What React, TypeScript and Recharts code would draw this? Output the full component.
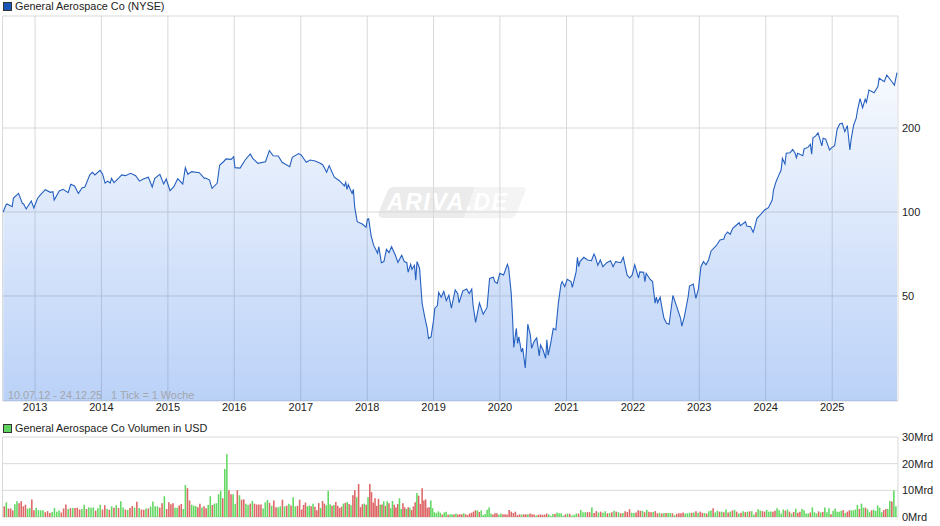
import { Area, AreaChart, Bar, BarChart, CartesianGrid, Cell, XAxis, YAxis } from "recharts";

// one entry per turning point of the weekly close, week 0 = 10.07.12
const priceWeeks = [
  0, 2, 3, 7, 8, 12, 15, 16, 18, 22, 24, 27, 29, 33, 37, 39, 40, 44, 47, 51,
  53, 56, 59, 62, 64, 68, 70, 72, 76, 78, 80, 82, 84, 85, 87, 91, 93, 96, 100, 104,
  107, 110, 114, 117, 119, 123, 126, 128, 131, 134, 137, 141, 143, 145, 148, 154, 158, 159, 162, 164,
  168, 170, 173, 175, 179, 181, 182, 186, 190, 194, 196, 200, 206, 209, 212, 216, 219, 225, 227, 232,
  234, 238, 241, 245, 249, 251, 254, 256, 260, 264, 268, 269, 270, 271, 274, 275, 276, 278, 282, 285,
  286, 287, 289, 291, 294, 295, 297, 299, 301, 303, 305, 308, 310, 313, 315, 317, 318, 320, 321, 323,
  324, 325, 327, 329, 331, 333, 334, 336, 338, 339, 341, 342, 344, 346, 348, 350, 352, 355, 357, 358,
  361, 364, 366, 368, 369, 371, 374, 377, 380, 382, 385, 386, 388, 390, 393, 396, 397, 399, 400, 401,
  403, 404, 405, 407, 408, 410, 411, 412, 414, 415, 417, 419, 421, 422, 424, 426, 427, 428, 430, 432,
  434, 436, 438, 439, 441, 443, 446, 447, 450, 451, 452, 453, 456, 459, 462, 464, 465, 467, 469, 471,
  474, 477, 479, 481, 485, 487, 490, 492, 494, 496, 499, 500, 503, 504, 505, 508, 510, 512, 513, 514,
  516, 517, 519, 521, 523, 525, 526, 529, 532, 533, 535, 538, 539, 542, 544, 546, 548, 550, 552, 554,
  556, 560, 563, 566, 567, 569, 571, 573, 576, 578, 579, 583, 584, 587, 589, 590, 592, 595, 598, 601,
  604, 605, 607, 609, 611, 612, 614, 615, 618, 620, 622, 623, 624, 628, 629, 632, 634, 635, 636, 638,
  640, 643, 644, 646, 649, 651, 653, 655, 657, 659, 661, 663, 665, 666, 668, 670, 671, 673, 675, 677,
  678, 680, 684, 687, 688, 692, 694, 698, 700, 702,
];

const priceCloses = [
  100, 105.9, 106.8, 104.5, 112.2, 116.6, 107.4, 106.8, 102.5, 109.5, 103.4, 112, 115, 120.2, 117.6, 118.2, 110.4, 118.9, 120.6, 117.3,
  125.7, 124, 116.6, 122.2, 122.6, 135.8, 138.8, 135.8, 141, 136.9, 127, 129, 127, 132, 127.4, 132.8, 135.8, 135, 137.6, 135,
  129, 131.3, 133.2, 122.9, 132, 136.5, 126, 131.3, 119.2, 123.2, 131.6, 126, 144.2, 136.5, 139.5, 138.3, 132, 132.4, 130.2, 121.6,
  126.7, 147.4, 151.4, 155, 154.4, 157.9, 144.2, 143.6, 153.6, 161.4, 155.7, 149.4, 151.4, 165.9, 159, 158.7, 150.7, 145.4, 157, 162,
  160.2, 150.7, 153.6, 152.3, 149.4, 147.4, 138.8, 146.6, 133.2, 129.5, 124, 127.7, 120.6, 125.3, 116.6, 120.6, 104.5, 92.3, 90.6, 88.2,
  94.2, 94.6, 82, 75.9, 71.1, 75.1, 65.8, 66.4, 73.5, 71.5, 75.1, 70, 66, 70, 66.4, 65.8, 60.8, 65, 62.3, 64.4,
  57, 66.4, 62.9, 47.1, 42.2, 38.3, 35.2, 35.7, 41, 45.2, 46.2, 51.5, 49.5, 51.9, 48.1, 50.3, 45.2, 52.6, 51, 47.3,
  52.2, 53, 51, 52.9, 46.4, 40.2, 47.2, 43, 45.5, 57.8, 58.4, 56.3, 55.5, 60.3, 59.5, 64.9, 62.9, 51.1, 42.2, 32.7,
  38.3, 33.8, 35.7, 31.5, 32.5, 27.6, 32.5, 39.6, 36.3, 32.5, 34.4, 35.4, 30.5, 33.4, 32, 29.9, 34.8, 30.7, 33.8, 38.3,
  37.8, 47.1, 54.8, 56.3, 54, 57.4, 56.3, 53.7, 61.1, 68.8, 63.7, 66.4, 68.8, 67.3, 66.9, 70.7, 69.2, 64.4, 67.3, 63.7,
  65.8, 66.9, 63.7, 66.4, 65.8, 68.8, 59.5, 58, 59.5, 64.7, 58, 61, 60.8, 56.3, 60.3, 57.4, 56.3, 47.1, 49.5, 47.3,
  49.5, 46.4, 41.6, 39.9, 39.6, 46.4, 50.2, 45.8, 41.6, 39, 42.2, 49.8, 54.3, 55.2, 49, 52.9, 63.7, 66.4, 64.7, 67.3,
  72.5, 75.7, 79.4, 80, 82.7, 84.8, 83.2, 87.4, 89.8, 91.5, 89.3, 92.3, 89, 88.6, 84.6, 87.4, 94.9, 98.1, 101.7, 103.6,
  110.4, 119.9, 128.4, 135, 141.4, 155.7, 148.6, 162.4, 163.1, 167.7, 162.4, 156.5, 162.4, 159, 168.2, 170.4, 174.7, 161, 184.6, 187,
  192.1, 172.7, 183.8, 182.4, 166.8, 170.4, 172.7, 197.9, 206.8, 208, 194, 204, 166.8, 182.4, 205, 217, 232, 254.7, 236.5, 253.5,
  247, 273.7, 267.6, 281.3, 301.4, 293, 309.7, 293, 285, 315.6,
];

// weekly volume in Mrd USD per year, negative = down week (red bar)
const volume2012 = [-4, 5.5, -3.2, -3.2, -2.5, 4.8, 5.9, -5.2, -5.9, -4, -4.6, 3.1, 3.4, -6.6, -2.5];
const volume2013 = [3.5, 2.6, 2.5, 2.5, -1.8, -2.2, -1.5, 1.9, 3.4, 2, 2.4, -1.7, -3.2, -4.7, 3, -3.3, 3.4, -3.4, -3.5, -2.8, 3, 4.6, -3, 3.6, 3.5, 3.6, -2.4, 3.3, 4.6];
const volume2014 = [-2.8, -4.4, 3, -2.7, 4, -3.5, 4.4, -3.4, 5.9, 3.6, -2.8, 2.6, -3.4, -4.1, 3.5, -5.7, 3.4, -2.8, -2.7, 3.2, -3.2, 3.9, 5.8, 4, 4, -3.5, -5.2, 7.8, -3];
const volume2015 = [-5.5, -4.8, -5.2, 3.5, 3.5, -4.3, -4.9, 3, 12, -10.8, -6.2, 4.6, 4.2, 4.1, -3.7, -5, 3.6, -4, -3.3, 4.5, 7.8, -4.5, 5, 5.2, 8.5, 9.8, -7, 18, 23.5, -10, -8.5, 8.5];
const volume2016 = [5, -10, 8.2, -6.5, -6.6, 5, 4.5, -5, 6, -5, -4.7, -4.7, -4.7, 3.2, 5.5, 6.4, -5.3, 4.2, -6.2, -3.7, 3.7, 4, -6.5, 4, -4.3, 5, -4.3, 7.4, 4, -4.2, -6.5];
const volume2017 = [-2.8, -4.5, -5.4, 4, 4.3, -4, 5, -3.8, -2.5, -5.2, 3.4, -6, -5, 4.4, 9.8, 4.8, -4.2, 4.5, -5.6, -4.2, -3.4, -3.9, 5, -5.3, 5.6, -4.9, 4.4, -8.2, -10, 7.4, -12.4, -3.7, -4.8, 5, -4.6];
const volume2018 = [7.4, -12.4, -9.3, -5.4, -7, -4.2, -6.8, 4.6, -4.7, 5.9, -4.2, 5.9, -5.2, 3.3, 6, -4.6, -3.6, -4.9, 7, 3, -5.2, -3.6, 3, -3.7, 3.5, -2.6, -4, -5.5, 9, -8, -4.9, -10.8, -6.2, -6.6, -3.5, -3.7, 6.2, 3.3];
const volume2019 = [1.8, 1.4, 2.1, 1.6, -0.9, 1.7, 2, -0.8, 1, 1, -0.9, 1.3, -0.9, -1, -1, 1.4, -1, -0.7, -1.3, -1.6, -2, -2.5, 2.5, -1.9, 2.5, 0.7, 1.1, 2.7, 3.6, 1.3, -0.9, -1.4, -1.4, 0.8];
const volume2020 = [1.3, -1, -1, -0.9, -2.6, -2, -1.5, -2, -0.7, -1, 1, -1, -1, 1, -1.3, -1, -0.9, 0.6, -0.8, -1, -0.8, -0.9, -1.3, 1, 0.5, 1.1, -1.1, 1.7, 1.4, 1.4, 0.5, -1];
const volume2021 = [1.3, -1.2, 0.6, 0.8, 1.3, -1.3, 2.6, 1.8, 1.8, -1.8, -1.8, 3.6, -1.5, -2.2, 1.7, -2, 1.6, 2.2, -1.4, 1.5, -1.8, 2.3, -2, 1.8, -1.4, 1.5, -2.2, -1.9, -2.9, 1.6];
const volume2022 = [1.5, -1.7, -2.5, -2.3, 2.3, -1.8, 2.7, -2, -1.8, 1.9, -2.2, -1.4, 1.6, -1.3, 1.5, -1.5, 1.5, 1.5, -1.4, 0.7, -1.2, -1.4, -1.4, -1.7, 1.3, 1.4, 1.6, -1.6, 1.7, -2.2, 1.6];
const volume2023 = [-2, -1.6, 1.5, -1.3, 2.2, 2.4, -3.3, 1.7, 2.3, -2, 2, -1.8, 2.8, -1.7, 2, -2.4, 2.7, -2, 1.3, -1.6, 2.2, -1.8, 2, -2.1, 2.2, 0.9, -1.8, 2.9, 2.4, -2.2, -2];
const volume2024 = [2.7, 2, 2.1, -2, -2.3, 3.3, 2.5, 1.3, 2.8, -2.4, 2.8, -2, 1.3, -1.9, 3.1, -1.6, -2, 3, 2.5, 1.3, 1.3, -1.7, 3.6, 1.8, 1.3, -2.1, 1.7, -1.9, 3.6, 1.8, 3.3, -1];
const volume2025 = [2.3, 3.2, 2, 2, 2.3, -2.6, 1.5, -2, -2.5, 2.5, 2.5, 2.8, 4.5, -3, 5, 3.5, -3.5, 2.9, 1.8, -2.5, 2.7, 2.3, 4.3, 3.5, 1.8, -2.6, -3, 3, 6, -5.8, 9.9, 4];

const volumeByYear = [
  volume2012, volume2013, volume2014, volume2015, volume2016, volume2017, volume2018,
  volume2019, volume2020, volume2021, volume2022, volume2023, volume2024, volume2025,
];

const yearLabels = ["2013", "2014", "2015", "2016", "2017", "2018", "2019", "2020", "2021", "2022", "2023", "2024", "2025"];
const yearWeeks = [25, 77.1, 129.3, 181.4, 233.7, 285.9, 338, 390.1, 442.4, 494.6, 546.7, 598.9, 651.1];
const firstWeek = -0.6;
const lastWeek = 702.8;

const priceTicks = [21.02, 50, 100, 200, 504];
const volumeTicks = [0, 10, 20, 30];

const priceData = priceWeeks.map((week, i) => ({ week, close: priceCloses[i] }));

const yearEdges = [0, ...yearWeeks, 702];
const volumeData = volumeByYear.flatMap((values, y) =>
  values.map((v, i) => ({
    week: yearEdges[y] + ((i + 0.5) * (yearEdges[y + 1] - yearEdges[y])) / values.length,
    volume: Math.abs(v),
    up: v > 0,
  })),
);

const xTicks = [firstWeek, ...yearWeeks, lastWeek];
const yearTick = (week: number) => {
  const i = yearWeeks.indexOf(week);
  return i < 0 ? "" : yearLabels[i];
};

const font = "'Liberation Sans', Arial, sans-serif";
const axisText = { fill: "#222", fontSize: 11, fontFamily: font };
const gridColor = "#d9d9d9";

function Legend({ top, color, label }: { top: number; color: string; label: string }) {
  return (
    <div style={{ position: "absolute", left: 3, top, display: "flex", alignItems: "center", height: 12, font: `10.85px ${font}`, color: "#222", whiteSpace: "nowrap" }}>
      <span style={{ width: 7, height: 7, border: "1px solid #333", background: color, marginRight: 3 }} />
      {label}
    </div>
  );
}

function Watermark() {
  return (
    <svg width={160} height={40} style={{ position: "absolute", left: 372, top: 183 }}>
      <path d="M22 4 H103 L92 35 H12 Q5 35 7 29 L15 9 Q17 4 22 4 Z" fill="#ebebeb" />
      <path d="M103 4 H150 Q155 4 153 9 L145 29 Q143 35 137 35 H92 Z" fill="#f4f4f4" />
      <text x={15} y={27} fill="#fff" fontFamily={font} fontStyle="italic" fontWeight="bold" fontSize={23} letterSpacing={1.6}>
        ARIVA
      </text>
      <text x={94} y={27} fill="#fff" fontFamily={font} fontStyle="italic" fontWeight="bold" fontSize={23} letterSpacing={1.2}>
        .DE
      </text>
    </svg>
  );
}

export default function App() {
  return (
    <div style={{ position: "absolute", left: 0, top: 0, width: 940, height: 526, overflow: "hidden", background: "#fff" }}>
      <Watermark />
      <Legend top={0} color="#1a56b8" label="General Aerospace Co (NYSE)" />

      <div style={{ position: "absolute", left: 0, top: 0 }}>
        <AreaChart width={940} height={421} data={priceData} margin={{ top: 16, right: 0, bottom: 0, left: 2.5 }}>
          <defs>
            <linearGradient id="priceFill" x1="0" y1="0" x2="0" y2="1">
              <stop offset="0%" stopColor="#2f75e8" stopOpacity={0.04} />
              <stop offset="100%" stopColor="#2f75e8" stopOpacity={0.33} />
            </linearGradient>
          </defs>
          <CartesianGrid stroke={gridColor} />
          <XAxis
            dataKey="week"
            type="number"
            domain={[firstWeek, lastWeek]}
            ticks={xTicks}
            tickFormatter={yearTick}
            interval={0}
            height={20}
            axisLine={false}
            tickLine={false}
            tickSize={0}
            tickMargin={2}
            tick={axisText}
          />
          <YAxis
            orientation="right"
            scale="log"
            domain={[21.02, 504]}
            allowDataOverflow
            ticks={priceTicks}
            tickFormatter={(v: number) => (v === 50 || v === 100 || v === 200 ? String(v) : "")}
            interval={0}
            width={42}
            axisLine={false}
            tickLine={false}
            tickSize={0}
            tickMargin={4}
            tick={axisText}
          />
          <Area
            dataKey="close"
            type="linear"
            baseValue={21.02}
            stroke="#2560c0"
            strokeWidth={1.1}
            fill="url(#priceFill)"
            fillOpacity={1}
            dot={false}
            activeDot={false}
            isAnimationActive={false}
          />
        </AreaChart>
      </div>

      <div style={{ position: "absolute", left: 8, top: 389, font: `10.85px ${font}`, color: "#a3a6ab", whiteSpace: "pre" }}>
        {"10.07.12 - 24.12.25   1 Tick = 1 Woche"}
      </div>

      <Legend top={422} color="#5fd35f" label="General Aerospace Co Volumen in USD" />

      <div style={{ position: "absolute", left: 0, top: 430 }}>
        <BarChart width={940} height={96} data={volumeData} margin={{ top: 7, right: 0, bottom: 9, left: 2.5 }} barSize={2}>
          <CartesianGrid stroke={gridColor} />
          <XAxis
            dataKey="week"
            type="number"
            domain={[firstWeek, lastWeek]}
            ticks={xTicks}
            tick={false}
            interval={0}
            height={0}
            axisLine={false}
            tickLine={false}
          />
          <YAxis
            orientation="right"
            domain={[0, 30]}
            ticks={volumeTicks}
            tickFormatter={(v: number) => `${v}Mrd`}
            interval={0}
            width={42}
            axisLine={false}
            tickLine={false}
            tickSize={0}
            tickMargin={4}
            tick={axisText}
          />
          <Bar dataKey="volume" isAnimationActive={false}>
            {volumeData.map((d, i) => (
              <Cell key={i} fill={d.up ? "#62d862" : "#dd6666"} />
            ))}
          </Bar>
        </BarChart>
      </div>
    </div>
  );
}
